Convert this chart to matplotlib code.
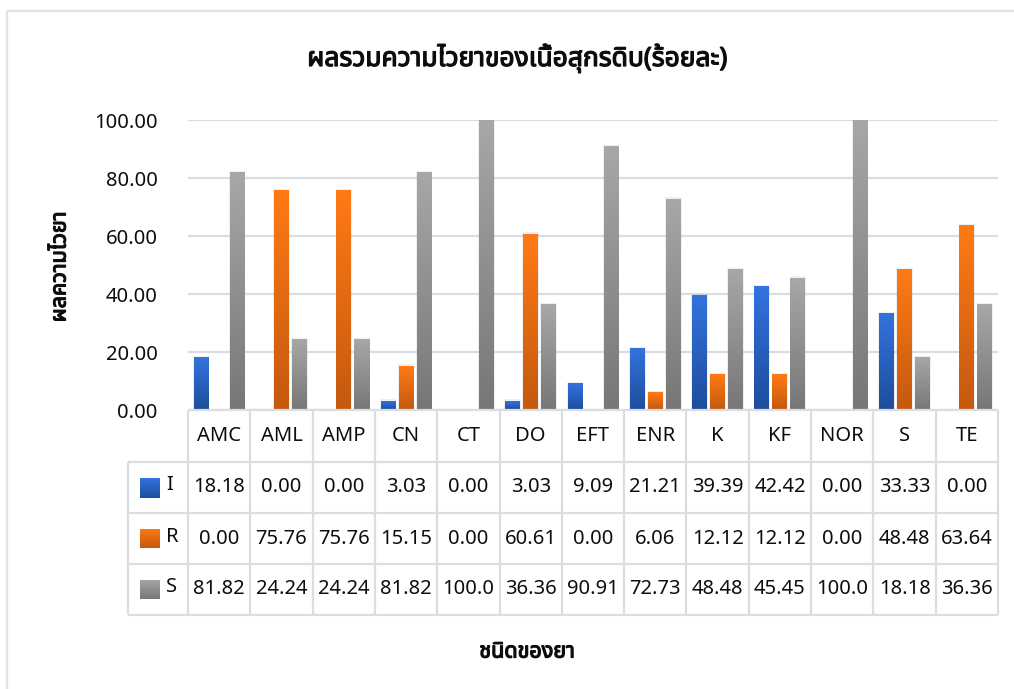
import numpy as np
import matplotlib
matplotlib.use("Agg")
import matplotlib.pyplot as plt
from matplotlib import font_manager as fm, transforms as mtransforms
from matplotlib import patheffects as pe
from matplotlib.ft2font import FT2Font
from matplotlib.colors import to_rgb
from matplotlib.lines import Line2D
from matplotlib.patches import Rectangle

# ---------------- data ----------------
categories = ["AMC", "AML", "AMP", "CN", "CT", "DO", "EFT", "ENR", "K", "KF", "NOR", "S", "TE"]
series_names = ["I", "R", "S"]
values_I = [18.18, 0.00, 0.00, 3.03, 0.00, 3.03, 9.09, 21.21, 39.39, 42.42, 0.00, 33.33, 0.00]
values_R = [0.00, 75.76, 75.76, 15.15, 0.00, 60.61, 0.00, 6.06, 12.12, 12.12, 0.00, 48.48, 63.64]
values_S = [81.82, 24.24, 24.24, 81.82, 100.00, 36.36, 90.91, 72.73, 48.48, 45.45, 100.00, 18.18, 36.36]
y_ticks = [0, 20, 40, 60, 80, 100]
title = "ผลรวมความไวยาของเนื้อสุกรดิบ(ร้อยละ)"
y_title = "ผลความไวยา"
x_title = "ชนิดของยา"

# ---------------- fonts ----------------
def thai_family():
    preferred = ["Noto Sans Thai", "Noto Sans Thai UI", "Noto Sans Thai Looped", "Leelawadee UI",
                 "Tahoma", "Loma", "Garuda", "Sarabun", "Waree", "Umpush", "Norasi", "Kinnari",
                 "Laksaman", "Tlwg Typist", "FreeSans"]
    found = {}
    for f in fm.fontManager.ttflist:
        if f.name in found:
            continue
        try:
            cmap = FT2Font(f.fname).get_charmap()
        except Exception:
            continue
        if all(c in cmap for c in (0x0E01, 0x0E27, 0x0E48, 0x0E49)):
            found[f.name] = f.fname
    for p in preferred:
        if p in found:
            return p
    return next(iter(found), None)

thai = thai_family()
fams = ["Noto Sans"] + ([thai] if thai else []) + ["DejaVu Sans"]
plt.rcParams["font.family"] = fams
TXT = "#0d0d0d"
BOLD = [pe.Stroke(linewidth=0.9, foreground=TXT), pe.Normal()]

W, H = 1014, 689
fig = plt.figure(figsize=(W / 100, H / 100), dpi=100)
fig.patch.set_facecolor("white")

# pixel transform (origin top-left)
pxT = mtransforms.Affine2D().scale(1 / W, -1 / H).translate(0, 1) + fig.transFigure

# outer chart border
fig.patches.append(Rectangle((7, 11), 1030, 700, transform=pxT, fill=False,
                             edgecolor="#dfe2e8", lw=1.6))

ax_l, ax_r, ax_t, ax_b = 188, 998, 120, 410
ax = fig.add_axes([ax_l / W, 1 - ax_b / H, (ax_r - ax_l) / W, (ax_b - ax_t) / H])
n = len(categories)
x = np.arange(n)
ax.set_xlim(-0.5, n - 0.5)
ax.set_ylim(0, 100)
for s in ax.spines.values():
    s.set_visible(False)
ax.set_xticks([])
ax.set_yticks(y_ticks)
ax.set_yticklabels([f"{v:.2f}" for v in y_ticks], fontsize=14.5, color=TXT)
ax.tick_params(axis="y", length=0, pad=22)
grid_c = "#dadde3"
ax.yaxis.grid(True, color=grid_c, lw=1.6)
ax.set_axisbelow(True)

col_px = (ax_r - ax_l) / n
bar_w = 15 / col_px
step = 18 / col_px
colors = [("#3273de", "#1e4d9c"), ("#ff7a15", "#c4590f"), ("#a7a7a7", "#777777")]
series = [values_I, values_R, values_S]

def grad(top, bot, N=64):
    t = np.linspace(0, 1, N)[:, None]
    a = np.array(to_rgb(top)); b = np.array(to_rgb(bot))
    return (a * (1 - t) + b * t)[:, None, :]

for k, (vals, (ct, cb)) in enumerate(zip(series, colors)):
    bars = ax.bar(x + (k - 1) * step, vals, width=bar_w, color="none", edgecolor="none")
    for b in bars:
        h = b.get_height()
        if h <= 0:
            continue
        x0 = b.get_x()
        # soft shadow
        ax.add_patch(Rectangle((x0 - 0.012, 0), b.get_width() + 0.024, h + 0.6,
                               facecolor="#000000", alpha=0.06, edgecolor="none", zorder=1.5))
        ax.imshow(grad(ct, cb), extent=(x0, x0 + b.get_width(), 0, h), aspect="auto",
                  origin="upper", zorder=2, interpolation="bilinear")
ax.set_xlim(-0.5, n - 0.5)
ax.set_ylim(0, 100)

# ---------------- data table ----------------
blend = mtransforms.blended_transform_factory(ax.transData, pxT)
rows_y = [410, 462, 513, 564, 615]
leg_l = 128
line_kw = dict(color=grid_c, lw=1.6, solid_capstyle="butt")
# horizontal lines
fig.add_artist(Line2D([ax_l, ax_r], [rows_y[0], rows_y[0]], transform=pxT, **line_kw))
for yy in rows_y[1:]:
    fig.add_artist(Line2D([leg_l, ax_r], [yy, yy], transform=pxT, **line_kw))
# vertical lines
for i in range(n + 1):
    ax.add_artist(Line2D([i - 0.5, i - 0.5], [rows_y[0], rows_y[-1]], transform=blend,
                         clip_on=False, **line_kw))
fig.add_artist(Line2D([leg_l, leg_l], [rows_y[1], rows_y[-1]], transform=pxT, **line_kw))

# header
for i, c in enumerate(categories):
    ax.text(i, (rows_y[0] + rows_y[1]) / 2, c, transform=blend, ha="center", va="center",
            fontsize=14.5, color=TXT, clip_on=False)

def fmt(v):
    return f"{v:.2f}"[:5]

for r, (name, vals, (ct, cb)) in enumerate(zip(series_names, series, colors)):
    yc = (rows_y[r + 1] + rows_y[r + 2]) / 2
    for i, v in enumerate(vals):
        ax.text(i, yc, fmt(v), transform=blend, ha="center", va="center",
                fontsize=14.5, color=TXT, clip_on=False)
    # legend key
    kax = fig.add_axes([140 / W, 1 - (yc + 10) / H, 20 / W, 20 / H])
    kax.imshow(grad(ct, cb), aspect="auto", origin="upper", interpolation="bilinear")
    kax.axis("off")
    fig.text(166 / W, 1 - (yc - 2) / H, name, ha="left", va="center", fontsize=14.5, color=TXT)

# titles
fig.text(517 / W, 1 - 58 / H, title, ha="center", va="center", fontsize=19,
         fontweight="bold", color=TXT, path_effects=BOLD)
fig.text(60 / W, 1 - 267 / H, y_title, ha="center", va="center", rotation=90,
         fontsize=15.5, fontweight="bold", color=TXT, path_effects=BOLD)
fig.text(527 / W, 1 - 652 / H, x_title, ha="center", va="center", fontsize=15.5,
         fontweight="bold", color=TXT, path_effects=BOLD)

fig.savefig("out.png", dpi=100, facecolor="white")
